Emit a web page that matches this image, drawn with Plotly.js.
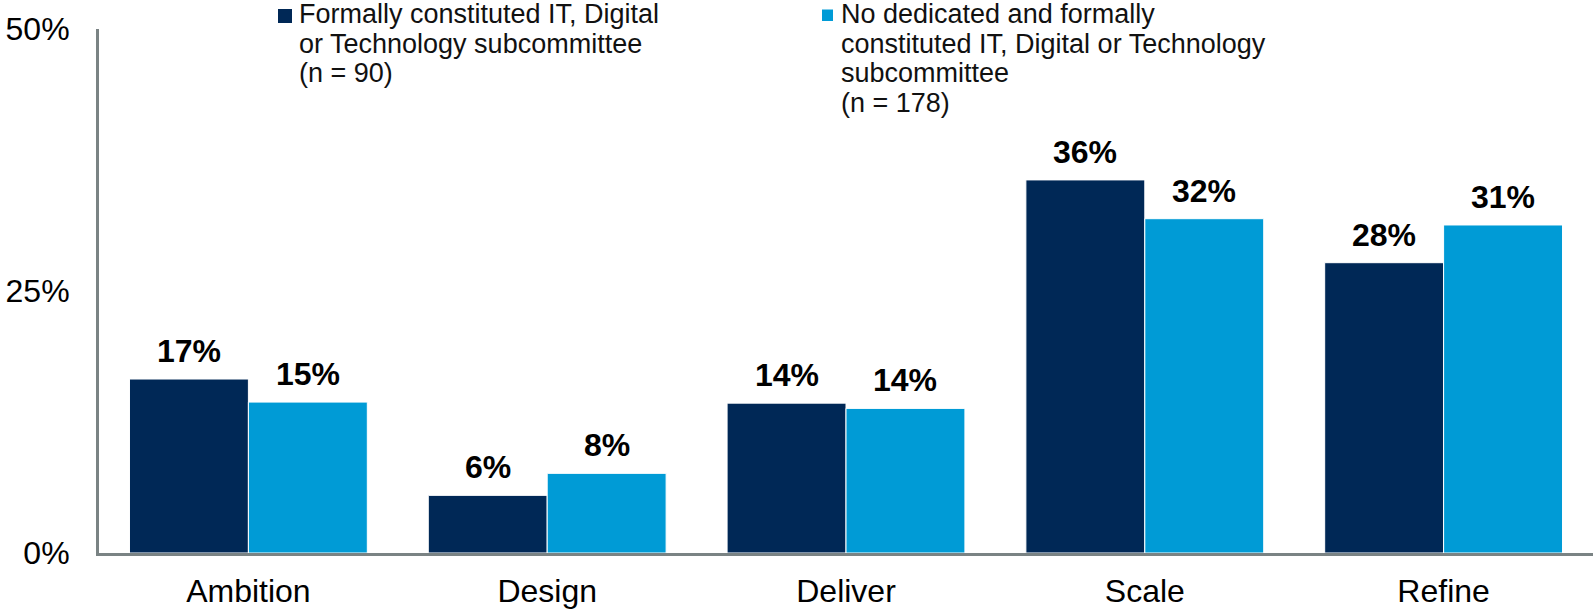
<!DOCTYPE html>
<html>
<head>
<meta charset="utf-8">
<script src="https://cdn.plot.ly/plotly-3.0.1.min.js"></script>
<style>html,body{margin:0;padding:0;background:#fff;}#chart{width:1593px;height:612px;}</style>
</head>
<body>
<div id="chart"></div>
<script>
// ---- data ----
const categories = ["Ambition", "Design", "Deliver", "Scale", "Refine"];
const formalValues = [16.6, 5.5, 14.3, 35.6, 27.7];
const noFormalValues = [14.4, 7.6, 13.8, 31.9, 31.3];
const formalLabels = ["17%", "6%", "14%", "36%", "28%"];
const noFormalLabels = ["15%", "8%", "14%", "32%", "31%"];
const yTickVals = [0, 25, 50];
const yTickText = ["0%", "25%", "50%"];
const formalName = ["Formally constituted IT, Digital", "or Technology subcommittee", "(n = 90)"];
const noFormalName = ["No dedicated and formally", "constituted IT, Digital or Technology", "subcommittee", "(n = 178)"];

// ---- layout helpers ----
const W = 1593, H = 612;
const M = {l: 99, r: 0, t: 29, b: 59};
const PW = W - M.l - M.r, PH = H - M.t - M.b;
const px = x => (x - M.l) / PW;          // pixel -> paper x
const py = y => (H - M.b - y) / PH;      // pixel -> paper y
const FONT = '"Liberation Sans", Arial, sans-serif';
const DARK = '#002856', LIGHT = '#009BD6';
const BARGAP = 0.204;
const slot = PW / categories.length;
const barOff = slot * (1 - BARGAP) / 4;

const traces = [
  {type: 'bar', name: formalName.join(' '), x: categories, y: formalValues,
   marker: {color: DARK, line: {color: '#ffffff', width: 1}}, hoverinfo: 'x+y'},
  {type: 'bar', name: noFormalName.join(' '), x: categories, y: noFormalValues,
   marker: {color: LIGHT, line: {color: '#ffffff', width: 1}}, hoverinfo: 'x+y'}
];

const annotations = [];
categories.forEach((c, i) => {
  annotations.push({x: c, y: formalValues[i], xref: 'x', yref: 'y', text: '<b>' + formalLabels[i] + '</b>',
    showarrow: false, xshift: -barOff, yshift: 8, yanchor: 'bottom', xanchor: 'center',
    font: {family: FONT, size: 32, color: '#000'}});
  annotations.push({x: c, y: noFormalValues[i], xref: 'x', yref: 'y', text: '<b>' + noFormalLabels[i] + '</b>',
    showarrow: false, xshift: barOff, yshift: 8, yanchor: 'bottom', xanchor: 'center',
    font: {family: FONT, size: 32, color: '#000'}});
});

// legend text lines
const LEG_LH = 29.5;
function legendLines(lines, xPix, firstBaseline) {
  lines.forEach((t, k) => {
    const base = firstBaseline + k * LEG_LH;
    annotations.push({xref: 'paper', yref: 'paper', x: px(xPix), y: py(base - 9.5),
      text: t, showarrow: false, xanchor: 'left', yanchor: 'middle',
      font: {family: FONT, size: 27, color: '#111'}});
  });
}
legendLines(formalName, 297, 23.5);
legendLines(noFormalName, 839, 23.5);

const shapes = [
  {type: 'rect', xref: 'paper', yref: 'paper', x0: px(278), x1: px(292), y0: py(23), y1: py(9),
   fillcolor: DARK, line: {width: 0}},
  {type: 'rect', xref: 'paper', yref: 'paper', x0: px(822), x1: px(833), y0: py(21), y1: py(9.5),
   fillcolor: LIGHT, line: {width: 0}}
];

const layout = {
  width: W, height: H,
  margin: M,
  paper_bgcolor: '#fff', plot_bgcolor: '#fff',
  barmode: 'group', bargap: BARGAP, bargroupgap: 0,
  showlegend: false,
  font: {family: FONT, color: '#000'},
  xaxis: {type: 'category', showline: true, linecolor: '#7A8384', linewidth: 3,
    ticks: '', showgrid: false, zeroline: false,
    tickfont: {family: FONT, size: 32, color: '#000'}, ticklabelstandoff: 8},
  yaxis: {range: [0, 50], tickvals: yTickVals, ticktext: yTickText,
    showline: true, linecolor: '#7A8384', linewidth: 3, ticks: '',
    showgrid: false, zeroline: false,
    tickfont: {family: FONT, size: 32, color: '#000'}, ticklabelstandoff: 20},
  annotations: annotations,
  shapes: shapes
};

Plotly.newPlot('chart', traces, layout, {displayModeBar: false, staticPlot: true});
</script>
</body>
</html>
